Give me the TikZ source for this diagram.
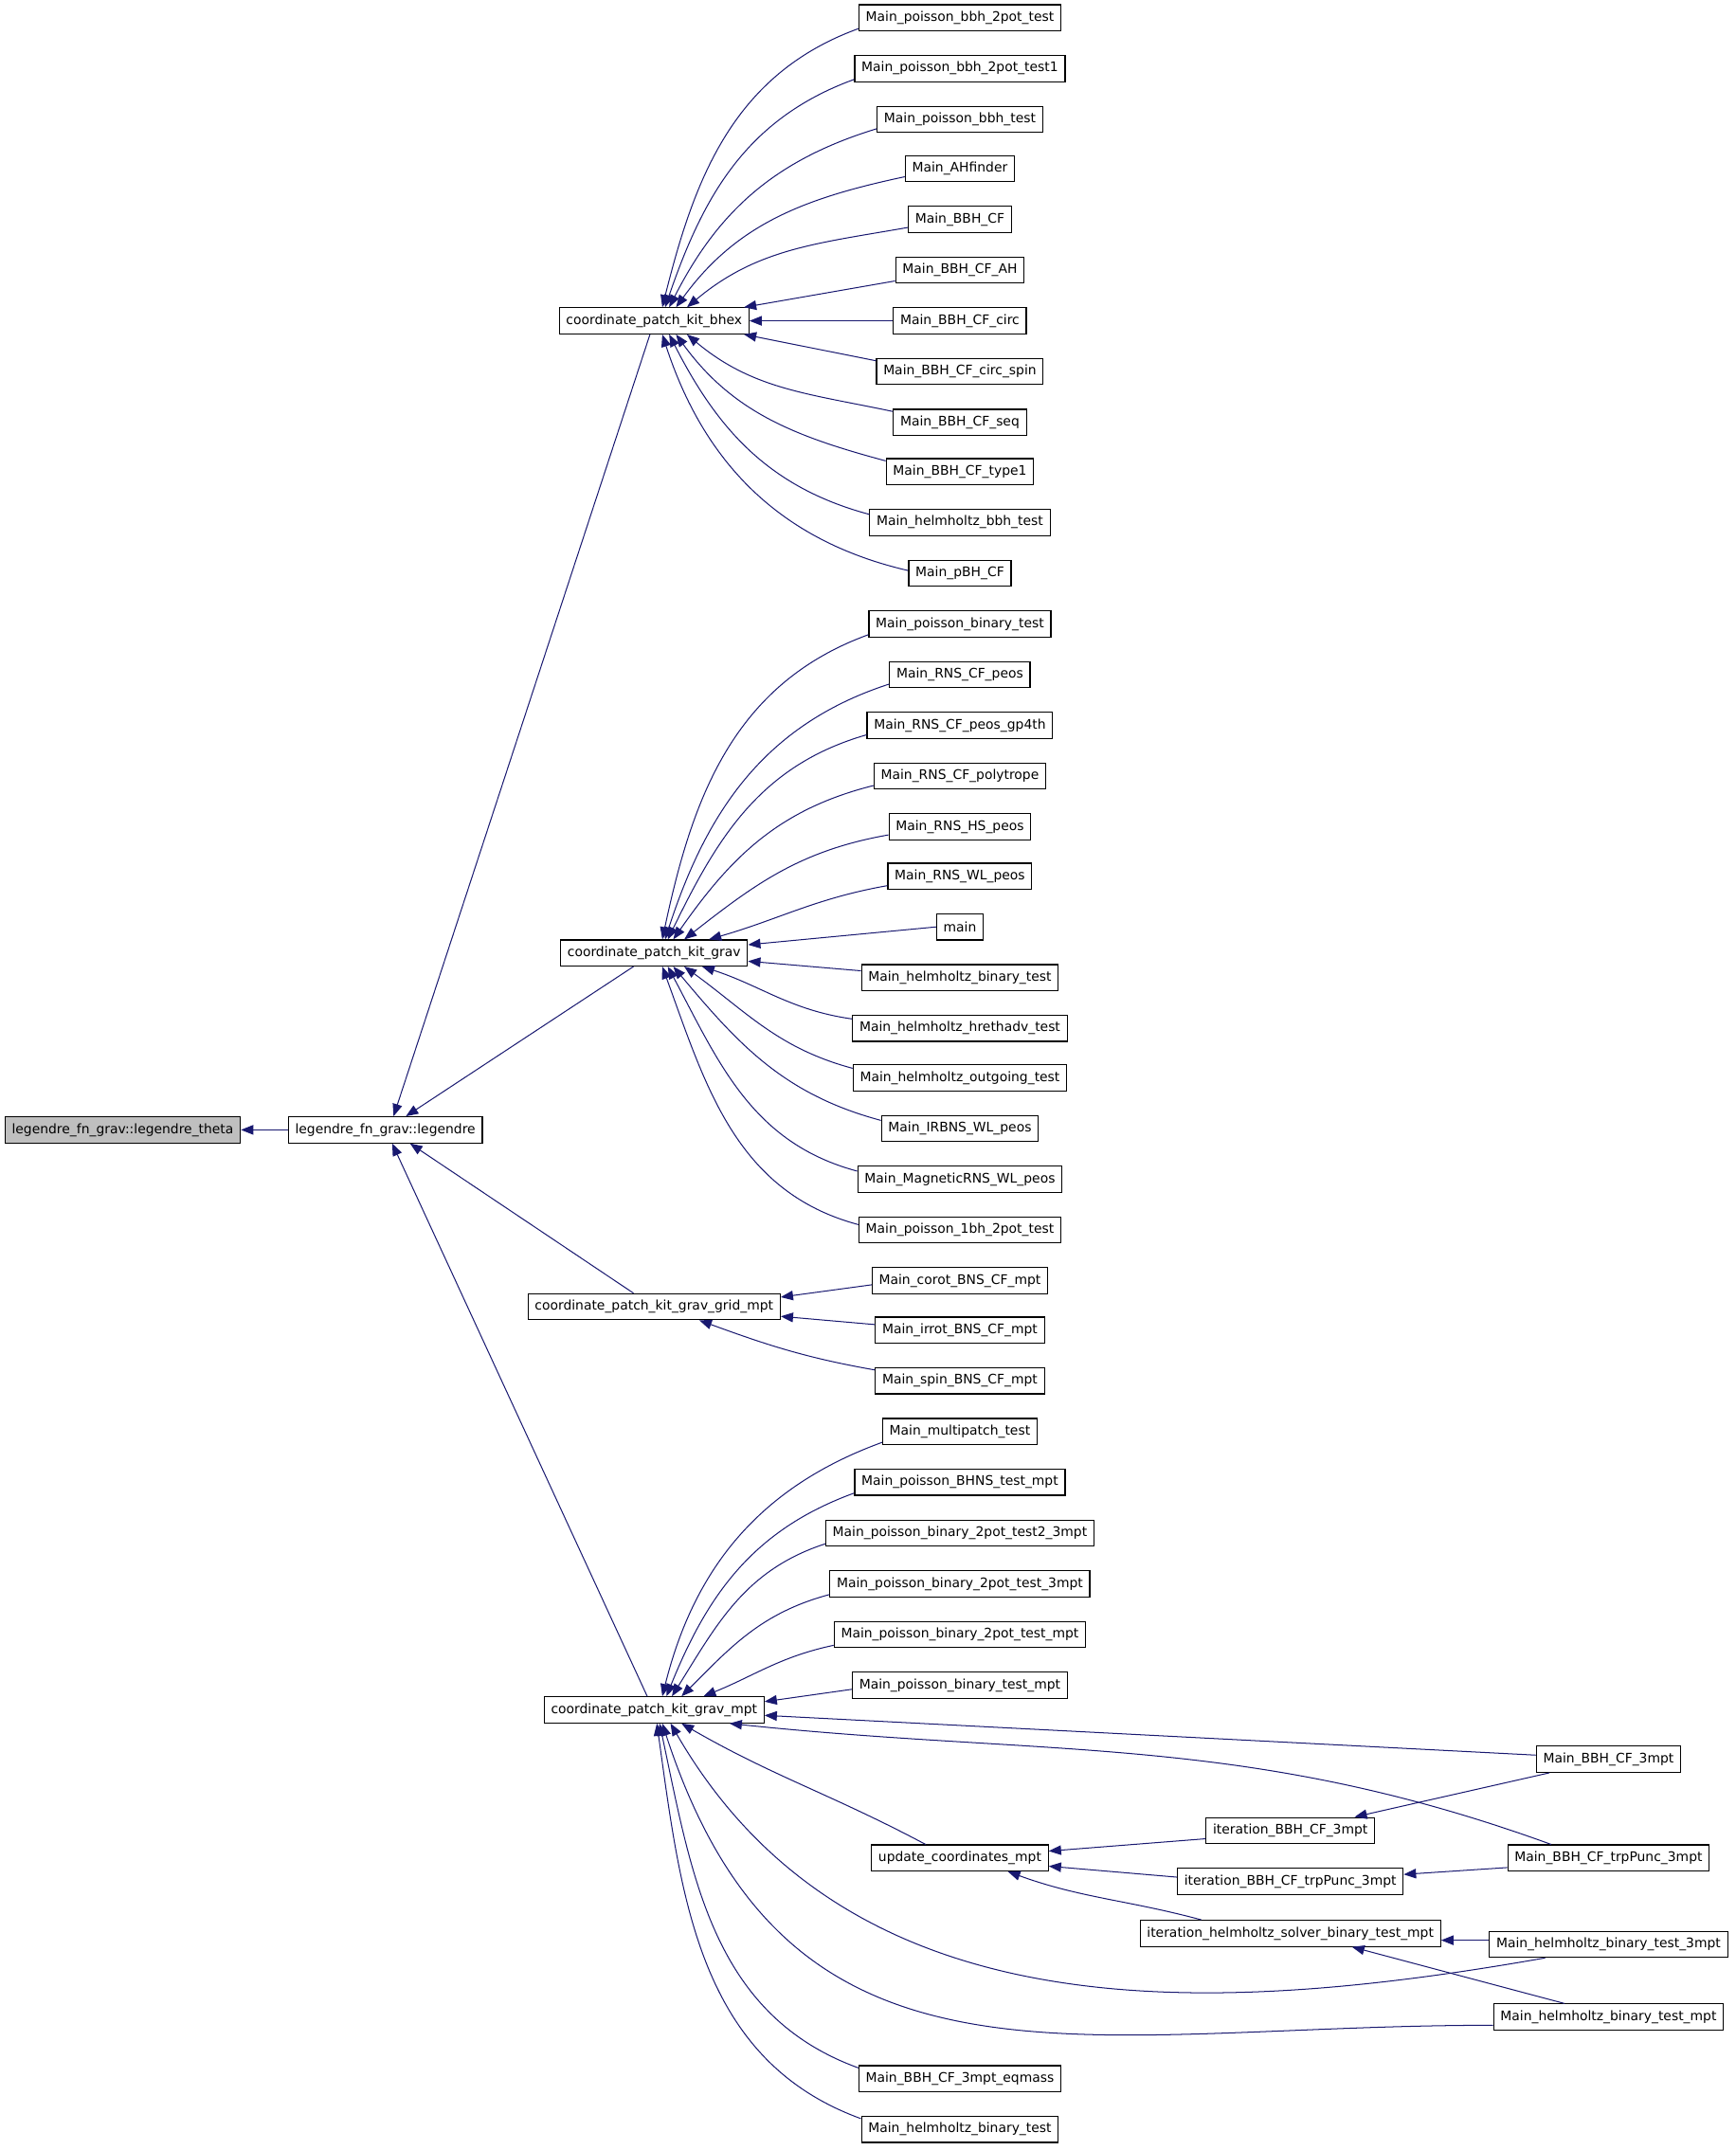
\documentclass[tikz,border=0pt]{standalone}
\usepackage{fontspec}
\setmainfont{DejaVu Sans}
\usetikzlibrary{arrows.meta}
\definecolor{callblue}{RGB}{25,25,112}
\definecolor{focusgray}{RGB}{191,191,191}
\begin{document}
\begin{tikzpicture}[x=1pt, y=-1pt,
    fn/.style={draw=black, line width=0.8pt, fill=white, minimum height=19pt, inner xsep=5pt, inner ysep=0pt, font=\fontsize{9.6}{11}\selectfont},
    call/.style={draw=callblue, line width=0.7pt, {Triangle[length=9pt,width=7pt]}-}]
\useasboundingbox (0,0) rectangle (1266,1568);

\node[fn, fill=focusgray] (theta) at (89.5,824) {legendre\_fn\_grav::legendre\_theta};
\node[fn] (leg) at (281,824) {legendre\_fn\_grav::legendre};
\node[fn] (bhex) at (477,234) {coordinate\_patch\_kit\_bhex};
\node[fn] (grav) at (477,695) {coordinate\_patch\_kit\_grav};
\node[fn] (gridmpt) at (477,953) {coordinate\_patch\_kit\_grav\_grid\_mpt};
\node[fn] (gravmpt) at (477,1247) {coordinate\_patch\_kit\_grav\_mpt};

\foreach \n/\y/\t in {bh1/13/Main\_poisson\_bbh\_2pot\_test, bh2/50/Main\_poisson\_bbh\_2pot\_test1,
    bh3/87/Main\_poisson\_bbh\_test, bh4/123/Main\_AHfinder, bh5/160/Main\_BBH\_CF, bh6/197/Main\_BBH\_CF\_AH,
    bh7/234/Main\_BBH\_CF\_circ, bh8/271/Main\_BBH\_CF\_circ\_spin, bh9/308/Main\_BBH\_CF\_seq,
    bh10/344/Main\_BBH\_CF\_type1, bh11/381/Main\_helmholtz\_bbh\_test, bh12/418/Main\_pBH\_CF,
    gr1/455/Main\_poisson\_binary\_test, gr2/492/Main\_RNS\_CF\_peos, gr3/529/Main\_RNS\_CF\_peos\_gp4th,
    gr4/566/Main\_RNS\_CF\_polytrope, gr5/603/Main\_RNS\_HS\_peos, gr6/639/Main\_RNS\_WL\_peos, gr7/676/main,
    gr8/713/Main\_helmholtz\_binary\_test, gr9/750/Main\_helmholtz\_hrethadv\_test,
    gr10/786/Main\_helmholtz\_outgoing\_test, gr11/823/Main\_IRBNS\_WL\_peos,
    gr12/860/Main\_MagneticRNS\_WL\_peos, gr13/897/Main\_poisson\_1bh\_2pot\_test,
    gm1/934/Main\_corot\_BNS\_CF\_mpt, gm2/970/Main\_irrot\_BNS\_CF\_mpt, gm3/1007/Main\_spin\_BNS\_CF\_mpt,
    mp1/1044/Main\_multipatch\_test, mp2/1081/Main\_poisson\_BHNS\_test\_mpt,
    mp3/1118/Main\_poisson\_binary\_2pot\_test2\_3mpt, mp4/1155/Main\_poisson\_binary\_2pot\_test\_3mpt,
    mp5/1192/Main\_poisson\_binary\_2pot\_test\_mpt, mp6/1229/Main\_poisson\_binary\_test\_mpt,
    upd/1355/update\_coordinates\_mpt, eqmass/1516/Main\_BBH\_CF\_3mpt\_eqmass,
    helmbin/1553/Main\_helmholtz\_binary\_test}
{
    \node[fn] (\n) at (700,\y) {\t};
}
\foreach \n/\y/\t in {it1/1335/iteration\_BBH\_CF\_3mpt, it2/1372/iteration\_BBH\_CF\_trpPunc\_3mpt,
    it3/1410/iteration\_helmholtz\_solver\_binary\_test\_mpt}
{
    \node[fn] (\n) at (941,\y) {\t};
}
\foreach \n/\y/\t in {bbh3/1283/Main\_BBH\_CF\_3mpt, trp3/1355/Main\_BBH\_CF\_trpPunc\_3mpt,
    helm3/1418/Main\_helmholtz\_binary\_test\_3mpt, helmmpt/1471/Main\_helmholtz\_binary\_test\_mpt}
{
    \node[fn] (\n) at (1173,\y) {\t};
}

\draw[call] (theta.east) -- (leg.west);
\draw[call] ([xshift=6pt]leg.north) -- ([xshift=-3pt]bhex.south);
\draw[call] ([xshift=15pt]leg.north) -- ([xshift=-15pt]grav.south);
\draw[call] ([xshift=18pt]leg.south) -- ([xshift=-15pt]gridmpt.north);
\draw[call] ([xshift=5pt]leg.south) -- ([xshift=-5pt]gravmpt.north);

\foreach \p/\n/\a/\dx/\o/\i/\c/\s in {bhex/bh1/north/6/76/200/south west/2, bhex/bh2/north/8/71/200/south west/2,
    bhex/bh3/north/11/63/197/south west/3, bhex/bh4/north/16/54/192/south west/4,
    bhex/bh5/north/24/40/190/south west/4, bhex/bh9/south/24/-40/168/north west/-2,
    bhex/bh10/south/16/-54/165/north west/-2, bhex/bh11/south/11/-63/165/north west/-4,
    bhex/bh12/south/6/-72/167/north west/-8,
    grav/gr1/north/6/78/200/south west/2, grav/gr2/north/8/72/198/south west/3,
    grav/gr3/north/10/64/196/south west/3, grav/gr4/north/14/55/194/south west/3,
    grav/gr5/north/22/38/190/south west/4, grav/gr6/north/40/16/190/south west/3,
    grav/gr9/south/35/-18/172/north west/-3, grav/gr10/south/22/-36/165/north west/-3,
    grav/gr11/south/14/-50/165/north west/-4, grav/gr12/south/10/-62/165/north west/-4,
    grav/gr13/south/6/-70/165/north west/-6,
    gridmpt/gm3/south/33/-20/170/north west/-2,
    gravmpt/mp1/north/6/76/200/south west/2, gravmpt/mp2/north/9/68/200/south west/2,
    gravmpt/mp3/north/13/58/198/south west/2, gravmpt/mp4/north/20/45/195/south west/2,
    gravmpt/mp5/north/36/22/192/south west/2}
{
    \draw[call] ([xshift=\dx pt]\p.\a) to[out=\o,in=\i] ([yshift=\s pt]\n.\c);
}

\draw[call] ([xshift=-4pt]bhex.north east) -- ([yshift=2pt]bh6.south west);
\draw[call] (bhex.east) -- (bh7.west);
\draw[call] ([xshift=-4pt]bhex.south east) -- ([yshift=-2pt]bh8.north west);
\draw[call] ([yshift=6pt]grav.east) -- (gr7.west);
\draw[call] ([yshift=-6pt]grav.east) -- ([yshift=5pt]gr8.west);
\draw[call] ([yshift=7pt]gridmpt.east) -- ([yshift=-3pt]gm1.west);
\draw[call] ([yshift=-7pt]gridmpt.east) -- ([yshift=4pt]gm2.west);
\draw[call] ([yshift=6pt]gravmpt.east) -- ([yshift=-3pt]mp6.west);
\draw[call] ([yshift=-4pt]gravmpt.east) -- ([yshift=3pt]bbh3.west);
\draw[call] ([xshift=55pt]gravmpt.south) to[out=-6,in=160] ([xshift=32pt]trp3.north west);
\draw[call] ([xshift=20pt]gravmpt.south) to[out=-30,in=152] ([xshift=-25pt]upd.north);
\draw[call] ([xshift=12pt]gravmpt.south) to[out=-60,in=190] ([xshift=41pt]helm3.south west);
\draw[call] ([xshift=6pt]gravmpt.south) to[out=-72,in=180,looseness=1.2] ([yshift=-6pt]helmmpt.west);
\draw[call] ([xshift=4pt]gravmpt.south) to[out=-78,in=160] ([yshift=-2pt]eqmass.north west);
\draw[call] ([xshift=2pt]gravmpt.south) to[out=-82,in=160] ([yshift=-2pt]helmbin.north west);

\draw[call] ([xshift=-15pt]it1.north east) -- ([xshift=10pt]bbh3.south west);
\draw[call] ([yshift=5pt]upd.east) -- ([yshift=-6pt]it1.west);
\draw[call] ([yshift=-6pt]upd.east) -- ([yshift=3pt]it2.west);
\draw[call] ([xshift=35pt]upd.south) to[out=-20,in=165] ([xshift=-65pt]it3.north);
\draw[call] ([yshift=5pt]it2.east) -- ([yshift=-7pt]trp3.west);
\draw[call] ([yshift=-5pt]it3.east) -- ([yshift=3pt]helm3.west);
\draw[call] ([xshift=45pt]it3.south) -- ([xshift=52pt]helmmpt.north west);
\end{tikzpicture}
\end{document}
